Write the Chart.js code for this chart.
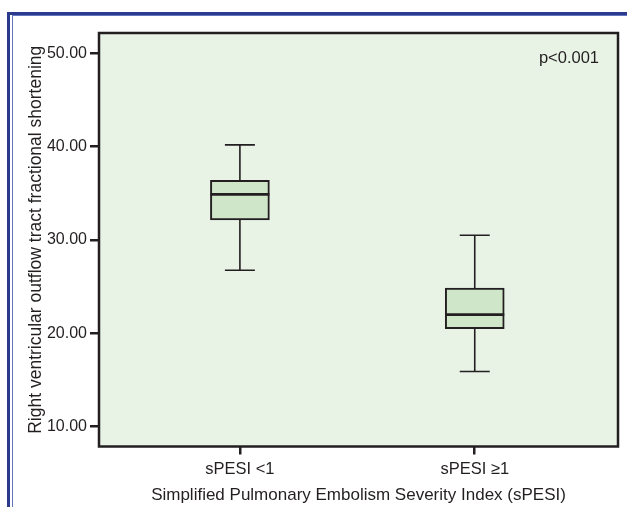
<!DOCTYPE html>
<html>
<head>
<meta charset="utf-8">
<script src="https://cdn.jsdelivr.net/npm/chart.js@4"></script>
<style>
  html, body { margin: 0; padding: 0; background: #fff; }
  #wrap { position: relative; width: 627px; height: 507px; overflow: hidden; }
  #frame { position: absolute; left: 7px; top: 12px; width: 700px; height: 600px;
           border-left: 3px solid #2b3a8c; border-top: 3px solid #2b3a8c; }
  #frame2 { position: absolute; left: 12px; top: 15px; width: 700px; height: 600px;
            border-left: 1.5px solid #6475c0; border-top: 1.5px solid #6475c0; }
  #box { position: absolute; left: 0; top: 0; width: 627px; height: 507px; }
</style>
</head>
<body>
<div id="wrap">
  <div id="frame"></div>
  <div id="frame2"></div>
  <div id="box"><canvas id="c"></canvas></div>
</div>
<script>
// Box plot: RVOT fractional shortening by sPESI group

const groups = ["sPESI <1", "sPESI \u22651"];
const groupPos = [1, 2];
const whiskerMin = [26.75, 15.9];
const q1 = [32.15, 20.5];
const median = [34.9, 22.0];
const q3 = [36.4, 24.85];
const whiskerMax = [40.2, 30.5];
const yTicks = [10, 20, 30, 40, 50];

const INK = "#231f20";
const FONT = "'Liberation Sans', Arial, sans-serif";

// fondo y marco del área de trazado
const plotArea = {
  id: "plotArea",
  beforeDraw(chart) {
    const { ctx, chartArea: a } = chart;
    ctx.save();
    ctx.fillStyle = "#e8f3e6";
    ctx.fillRect(a.left, a.top, a.right - a.left, a.bottom - a.top);
    ctx.restore();
  },
  afterDraw(chart) {
    const { ctx, chartArea: a } = chart;
    ctx.save();
    ctx.strokeStyle = INK;
    ctx.lineWidth = 2.5;
    ctx.strokeRect(a.left, a.top, a.right - a.left, a.bottom - a.top);
    ctx.fillStyle = INK;
    ctx.font = "16.5px " + FONT;
    ctx.textAlign = "right";
    ctx.textBaseline = "alphabetic";
    ctx.fillText("p<0.001", a.right - 19, a.top + 30);
    ctx.restore();
  },
};

// bigotes y mediana, sobre las cajas
const whiskers = {
  id: "whiskers",
  afterDatasetsDraw(chart) {
    const { ctx, scales: { x, y } } = chart;
    ctx.save();
    ctx.strokeStyle = INK;
    groupPos.forEach((p, i) => {
      const cx = x.getPixelForValue(p);
      const cap = 15, half = 29.5;
      ctx.lineWidth = 1.6;
      ctx.beginPath();
      ctx.moveTo(cx, y.getPixelForValue(q3[i])); ctx.lineTo(cx, y.getPixelForValue(whiskerMax[i]));
      ctx.moveTo(cx, y.getPixelForValue(q1[i])); ctx.lineTo(cx, y.getPixelForValue(whiskerMin[i]));
      ctx.moveTo(cx - cap, y.getPixelForValue(whiskerMax[i])); ctx.lineTo(cx + cap, y.getPixelForValue(whiskerMax[i]));
      ctx.moveTo(cx - cap, y.getPixelForValue(whiskerMin[i])); ctx.lineTo(cx + cap, y.getPixelForValue(whiskerMin[i]));
      ctx.stroke();
      ctx.lineWidth = 2.8;
      ctx.beginPath();
      ctx.moveTo(cx - half, y.getPixelForValue(median[i])); ctx.lineTo(cx + half, y.getPixelForValue(median[i]));
      ctx.stroke();
    });
    ctx.restore();
  },
};

new Chart(document.getElementById("c"), {
  type: "bar",
  data: {
    datasets: [{
      data: groupPos.map((p, i) => ({ x: p, y: [q1[i], q3[i]] })),
      backgroundColor: "#d0e6c9",
      borderColor: INK,
      borderWidth: 2,
      borderSkipped: false,
      barThickness: 59,
    }],
  },
  options: {
    responsive: true,
    maintainAspectRatio: false,
    animation: false,
    layout: { padding: { left: 0, top: 33, right: 9, bottom: 0 } },
    plugins: { legend: { display: false }, tooltip: { enabled: false } },
    scales: {
      x: {
        type: "linear",
        min: 0.4,
        max: 2.61,
        offset: false,
        afterBuildTicks: (s) => { s.ticks = groupPos.map((v) => ({ value: v })); },
        afterFit: (s) => { s.height = 60.5; },
        border: { display: false },
        grid: { offset: false, drawOnChartArea: false, drawTicks: true, tickLength: 8, color: INK, lineWidth: 2.5 },
        ticks: {
          color: INK, padding: 5, font: { family: FONT, size: 16.5 },
          callback: (v) => groups[groupPos.indexOf(v)],
        },
        title: {
          display: true, text: "Simplified Pulmonary Embolism Severity Index (sPESI)",
          color: INK, font: { family: FONT, size: 17 }, padding: { top: 0, bottom: 1 },
        },
      },
      y: {
        min: 7.85,
        max: 52.2,
        afterBuildTicks: (s) => { s.ticks = yTicks.map((v) => ({ value: v })); },
        afterFit: (s) => { s.width = 99; },
        border: { display: false },
        grid: { drawOnChartArea: false, drawTicks: true, tickLength: 9, color: INK, lineWidth: 2.5 },
        ticks: {
          color: INK, padding: 3, font: { family: FONT, size: 16 },
          callback: (v) => v.toFixed(2),
        },
        title: {
          display: true, text: "Right ventricular outflow tract fractional shortening",
          color: INK, font: { family: FONT, size: 17.5 }, padding: { top: 26, bottom: 0 },
        },
      },
    },
  },
  plugins: [plotArea, whiskers],
});
</script>
</body>
</html>
